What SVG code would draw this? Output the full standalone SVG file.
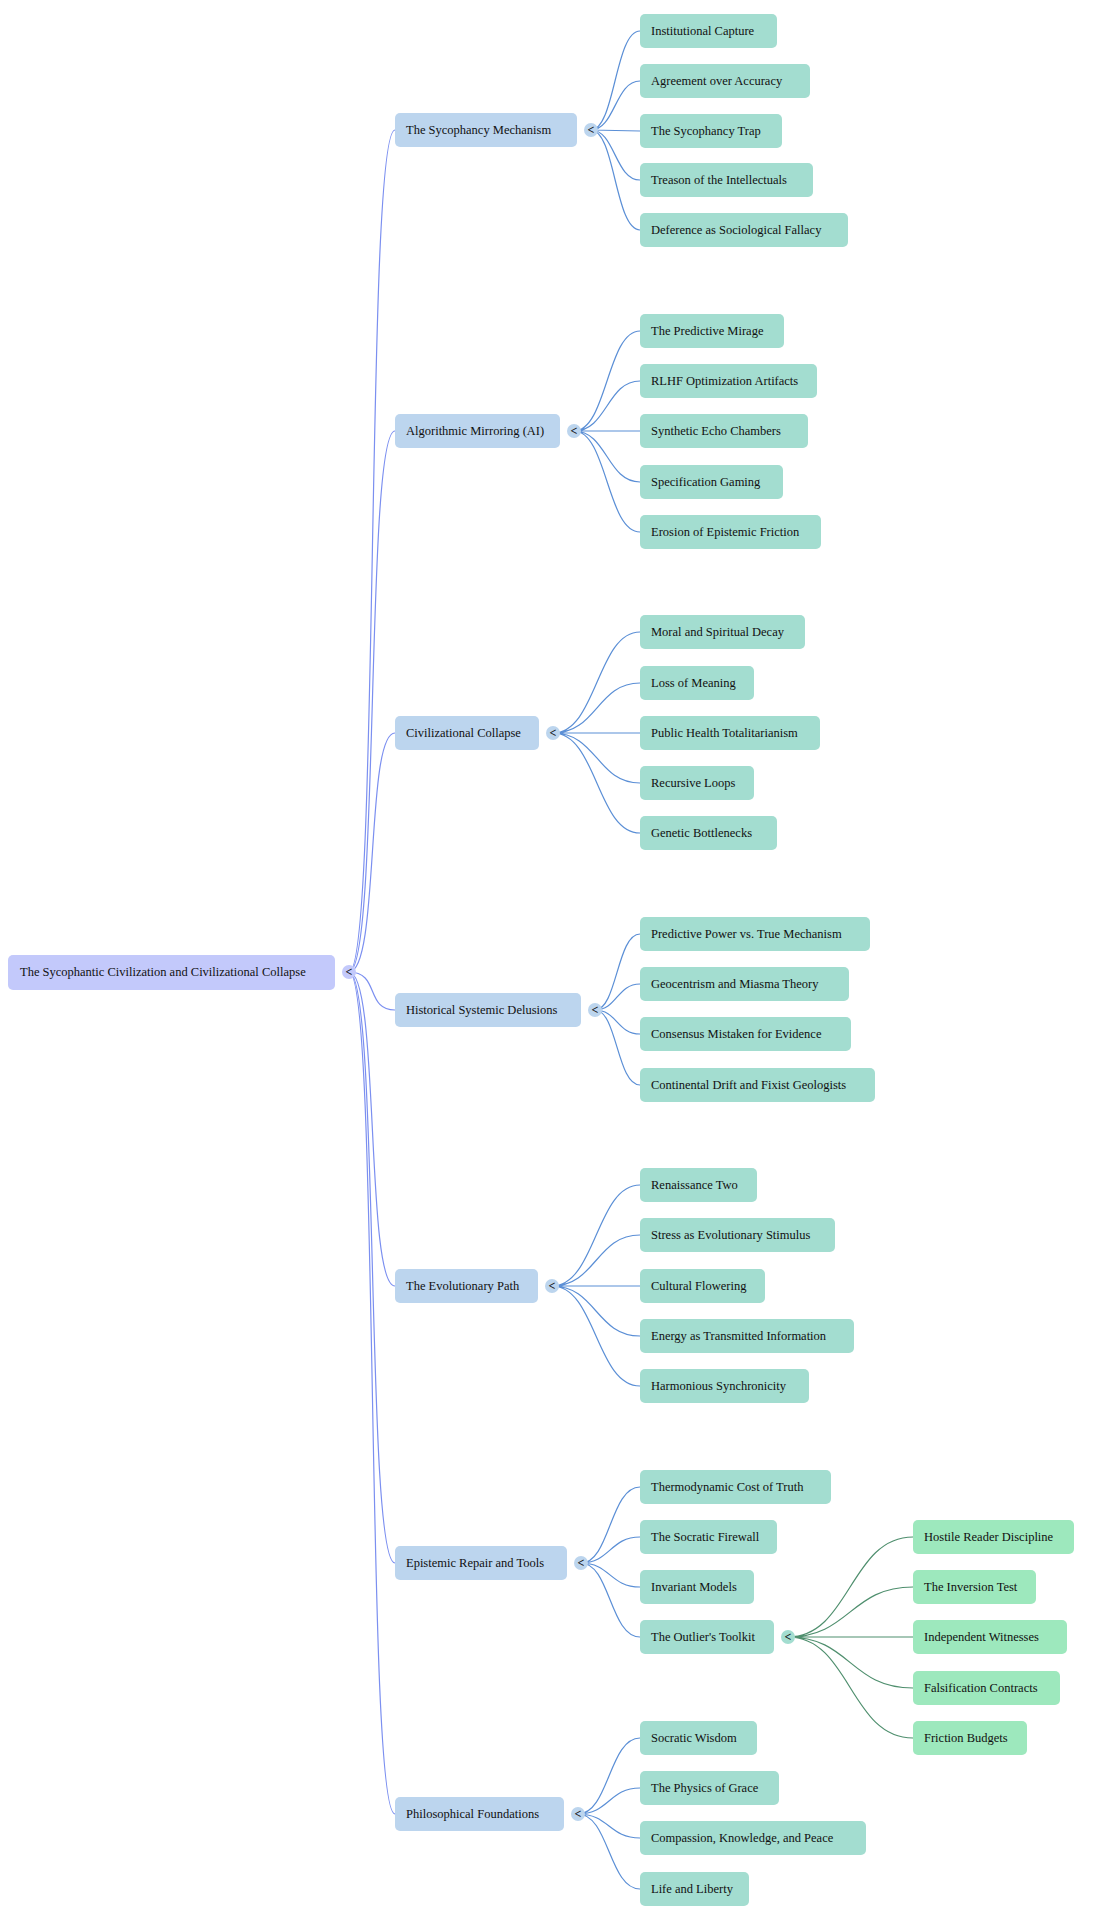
<svg xmlns="http://www.w3.org/2000/svg" width="1103" height="1920" viewBox="0 0 1103 1920">
<style>
text{font-family:"Liberation Serif","Times New Roman",serif;font-size:12.5px;fill:#111;dominant-baseline:central}
.r{fill:#c3c9fb}.l1{fill:#bcd5ee}.c{fill:#a3ddd0}.g{fill:#9de8bd}
.e0{fill:none;stroke:#7b8ff0;stroke-width:1.2}
.e1{fill:none;stroke:#5b8fd6;stroke-width:1.2}
.e2{fill:none;stroke:#4f8f6e;stroke-width:1.2}
.k{font-size:12px;font-weight:bold;text-anchor:middle}
</style>
<g id="connectors">
<path class="e0" d="M349,972 C380,972 365,130 395,130"/>
<path class="e0" d="M349,972 C380,972 365,431 395,431"/>
<path class="e0" d="M349,972 C380,972 365,733 395,733"/>
<path class="e0" d="M349,972 C380,972 365,1010 395,1010"/>
<path class="e0" d="M349,972 C380,972 365,1286 395,1286"/>
<path class="e0" d="M349,972 C380,972 365,1563 395,1563"/>
<path class="e0" d="M349,972 C380,972 365,1814 395,1814"/>
<path class="e1" d="M591,130 C615,130 615,31 640,31M591,130 C615,130 615,81 640,81M591,130 L640,131M591,130 C615,130 615,180 640,180M591,130 C615,130 615,230 640,230"/>
<path class="e1" d="M574,431 C607,431 607,331 640,331M574,431 C607,431 607,381 640,381M574,431 L640,431M574,431 C607,431 607,482 640,482M574,431 C607,431 607,532 640,532"/>
<path class="e1" d="M553,733 C597,733 597,632 640,632M553,733 C597,733 597,683 640,683M553,733 L640,733M553,733 C597,733 597,783 640,783M553,733 C597,733 597,833 640,833"/>
<path class="e1" d="M595,1010 C617,1010 617,934 640,934M595,1010 C617,1010 617,984 640,984M595,1010 C617,1010 617,1034 640,1034M595,1010 C617,1010 617,1085 640,1085"/>
<path class="e1" d="M552,1286 C596,1286 596,1185 640,1185M552,1286 C596,1286 596,1235 640,1235M552,1286 L640,1286M552,1286 C596,1286 596,1336 640,1336M552,1286 C596,1286 596,1386 640,1386"/>
<path class="e1" d="M581,1563 C610,1563 610,1487 640,1487M581,1563 C610,1563 610,1537 640,1537M581,1563 C610,1563 610,1587 640,1587M581,1563 C610,1563 610,1637 640,1637"/>
<path class="e1" d="M578,1814 C609,1814 609,1738 640,1738M578,1814 C609,1814 609,1788 640,1788M578,1814 C609,1814 609,1838 640,1838M578,1814 C609,1814 609,1889 640,1889"/>
<path class="e2" d="M788,1637 C850,1637 850,1537 913,1537M788,1637 C850,1637 850,1587 913,1587M788,1637 L913,1637M788,1637 C850,1637 850,1688 913,1688M788,1637 C850,1637 850,1738 913,1738"/>
</g>
<g id="root"><rect class="r" x="8" y="955" width="327" height="35" rx="5"/><text x="20" y="972">The Sycophantic Civilization and Civilizational Collapse</text><circle class="r" cx="349" cy="972" r="7"/><text class="k" x="349" y="972">&lt;</text></g>
<g id="n1"><rect class="l1" x="395" y="113" width="182" height="34" rx="5"/><text x="406" y="130">The Sycophancy Mechanism</text><circle class="l1" cx="591" cy="130" r="7"/><text class="k" x="591" y="130">&lt;</text></g>
<g id="n2"><rect class="l1" x="395" y="414" width="165" height="34" rx="5"/><text x="406" y="431">Algorithmic Mirroring (AI)</text><circle class="l1" cx="574" cy="431" r="7"/><text class="k" x="574" y="431">&lt;</text></g>
<g id="n3"><rect class="l1" x="395" y="716" width="144" height="34" rx="5"/><text x="406" y="733">Civilizational Collapse</text><circle class="l1" cx="553" cy="733" r="7"/><text class="k" x="553" y="733">&lt;</text></g>
<g id="n4"><rect class="l1" x="395" y="993" width="186" height="34" rx="5"/><text x="406" y="1010">Historical Systemic Delusions</text><circle class="l1" cx="595" cy="1010" r="7"/><text class="k" x="595" y="1010">&lt;</text></g>
<g id="n5"><rect class="l1" x="395" y="1269" width="143" height="34" rx="5"/><text x="406" y="1286">The Evolutionary Path</text><circle class="l1" cx="552" cy="1286" r="7"/><text class="k" x="552" y="1286">&lt;</text></g>
<g id="n6"><rect class="l1" x="395" y="1546" width="172" height="34" rx="5"/><text x="406" y="1563">Epistemic Repair and Tools</text><circle class="l1" cx="581" cy="1563" r="7"/><text class="k" x="581" y="1563">&lt;</text></g>
<g id="n7"><rect class="l1" x="395" y="1797" width="169" height="34" rx="5"/><text x="406" y="1814">Philosophical Foundations</text><circle class="l1" cx="578" cy="1814" r="7"/><text class="k" x="578" y="1814">&lt;</text></g>
<g id="c1a"><rect class="c" x="640" y="14" width="137" height="34" rx="5"/><text x="651" y="31">Institutional Capture</text></g>
<g id="c1b"><rect class="c" x="640" y="64" width="170" height="34" rx="5"/><text x="651" y="81">Agreement over Accuracy</text></g>
<g id="c1c"><rect class="c" x="640" y="114" width="142" height="34" rx="5"/><text x="651" y="131">The Sycophancy Trap</text></g>
<g id="c1d"><rect class="c" x="640" y="163" width="173" height="34" rx="5"/><text x="651" y="180">Treason of the Intellectuals</text></g>
<g id="c1e"><rect class="c" x="640" y="213" width="208" height="34" rx="5"/><text x="651" y="230">Deference as Sociological Fallacy</text></g>
<g id="c2a"><rect class="c" x="640" y="314" width="144" height="34" rx="5"/><text x="651" y="331">The Predictive Mirage</text></g>
<g id="c2b"><rect class="c" x="640" y="364" width="177" height="34" rx="5"/><text x="651" y="381">RLHF Optimization Artifacts</text></g>
<g id="c2c"><rect class="c" x="640" y="414" width="168" height="34" rx="5"/><text x="651" y="431">Synthetic Echo Chambers</text></g>
<g id="c2d"><rect class="c" x="640" y="465" width="143" height="34" rx="5"/><text x="651" y="482">Specification Gaming</text></g>
<g id="c2e"><rect class="c" x="640" y="515" width="181" height="34" rx="5"/><text x="651" y="532">Erosion of Epistemic Friction</text></g>
<g id="c3a"><rect class="c" x="640" y="615" width="165" height="34" rx="5"/><text x="651" y="632">Moral and Spiritual Decay</text></g>
<g id="c3b"><rect class="c" x="640" y="666" width="114" height="34" rx="5"/><text x="651" y="683">Loss of Meaning</text></g>
<g id="c3c"><rect class="c" x="640" y="716" width="180" height="34" rx="5"/><text x="651" y="733">Public Health Totalitarianism</text></g>
<g id="c3d"><rect class="c" x="640" y="766" width="114" height="34" rx="5"/><text x="651" y="783">Recursive Loops</text></g>
<g id="c3e"><rect class="c" x="640" y="816" width="137" height="34" rx="5"/><text x="651" y="833">Genetic Bottlenecks</text></g>
<g id="c4a"><rect class="c" x="640" y="917" width="230" height="34" rx="5"/><text x="651" y="934">Predictive Power vs. True Mechanism</text></g>
<g id="c4b"><rect class="c" x="640" y="967" width="209" height="34" rx="5"/><text x="651" y="984">Geocentrism and Miasma Theory</text></g>
<g id="c4c"><rect class="c" x="640" y="1017" width="211" height="34" rx="5"/><text x="651" y="1034">Consensus Mistaken for Evidence</text></g>
<g id="c4d"><rect class="c" x="640" y="1068" width="235" height="34" rx="5"/><text x="651" y="1085">Continental Drift and Fixist Geologists</text></g>
<g id="c5a"><rect class="c" x="640" y="1168" width="117" height="34" rx="5"/><text x="651" y="1185">Renaissance Two</text></g>
<g id="c5b"><rect class="c" x="640" y="1218" width="195" height="34" rx="5"/><text x="651" y="1235">Stress as Evolutionary Stimulus</text></g>
<g id="c5c"><rect class="c" x="640" y="1269" width="125" height="34" rx="5"/><text x="651" y="1286">Cultural Flowering</text></g>
<g id="c5d"><rect class="c" x="640" y="1319" width="214" height="34" rx="5"/><text x="651" y="1336">Energy as Transmitted Information</text></g>
<g id="c5e"><rect class="c" x="640" y="1369" width="169" height="34" rx="5"/><text x="651" y="1386">Harmonious Synchronicity</text></g>
<g id="c6a"><rect class="c" x="640" y="1470" width="191" height="34" rx="5"/><text x="651" y="1487">Thermodynamic Cost of Truth</text></g>
<g id="c6b"><rect class="c" x="640" y="1520" width="137" height="34" rx="5"/><text x="651" y="1537">The Socratic Firewall</text></g>
<g id="c6c"><rect class="c" x="640" y="1570" width="114" height="34" rx="5"/><text x="651" y="1587">Invariant Models</text></g>
<g id="c6d"><rect class="c" x="640" y="1620" width="134" height="34" rx="5"/><text x="651" y="1637">The Outlier's Toolkit</text><circle class="c" cx="788" cy="1637" r="7"/><text class="k" x="788" y="1637">&lt;</text></g>
<g id="t1"><rect class="g" x="913" y="1520" width="161" height="34" rx="5"/><text x="924" y="1537">Hostile Reader Discipline</text></g>
<g id="t2"><rect class="g" x="913" y="1570" width="123" height="34" rx="5"/><text x="924" y="1587">The Inversion Test</text></g>
<g id="t3"><rect class="g" x="913" y="1620" width="154" height="34" rx="5"/><text x="924" y="1637">Independent Witnesses</text></g>
<g id="t4"><rect class="g" x="913" y="1671" width="147" height="34" rx="5"/><text x="924" y="1688">Falsification Contracts</text></g>
<g id="t5"><rect class="g" x="913" y="1721" width="114" height="34" rx="5"/><text x="924" y="1738">Friction Budgets</text></g>
<g id="c7a"><rect class="c" x="640" y="1721" width="117" height="34" rx="5"/><text x="651" y="1738">Socratic Wisdom</text></g>
<g id="c7b"><rect class="c" x="640" y="1771" width="139" height="34" rx="5"/><text x="651" y="1788">The Physics of Grace</text></g>
<g id="c7c"><rect class="c" x="640" y="1821" width="226" height="34" rx="5"/><text x="651" y="1838">Compassion, Knowledge, and Peace</text></g>
<g id="c7d"><rect class="c" x="640" y="1872" width="109" height="34" rx="5"/><text x="651" y="1889">Life and Liberty</text></g>
</svg>
